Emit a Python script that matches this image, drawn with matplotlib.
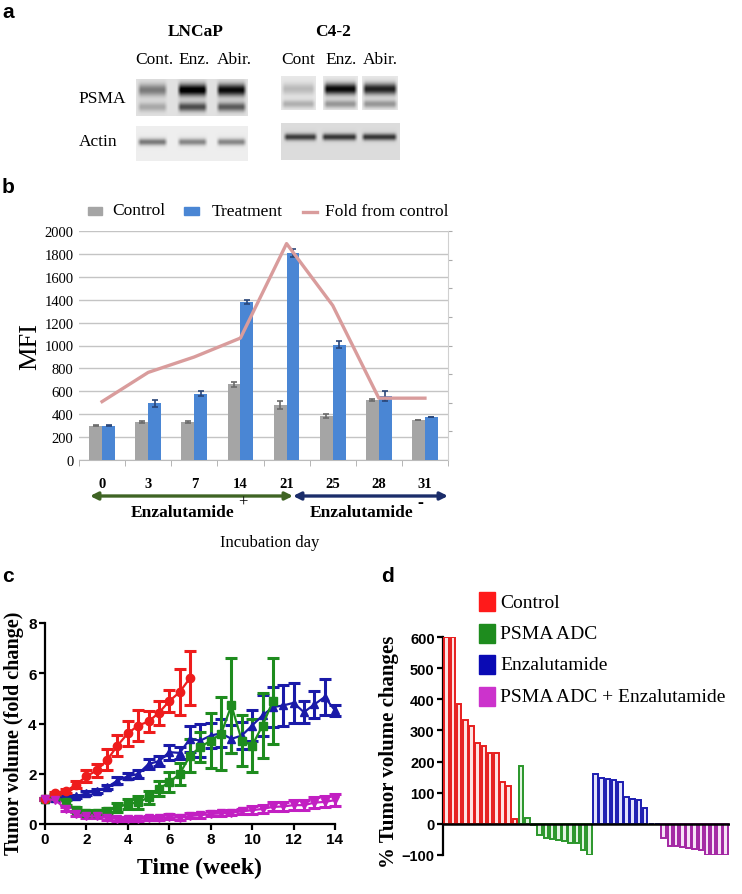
import numpy as np
import matplotlib
matplotlib.use("Agg")
import matplotlib.pyplot as plt
from matplotlib.patches import Rectangle
from matplotlib.lines import Line2D

plt.rcParams['font.family'] = ['Liberation Serif', 'DejaVu Serif']
SANS = ['Liberation Sans', 'DejaVu Sans']

# ---------------- data ----------------
# panel a: band strengths per lane (Cont, Enz, Abir)
lanes_a = ["Cont.", "Enz.", "Abir."]
lanes_a2 = ["Cont", "Enz.", "Abir."]
lncap_psma_upper = [0.40, 0.92, 0.85]
lncap_psma_lower = [0.22, 0.58, 0.52]
lncap_actin = [0.45, 0.40, 0.40]
c42_psma_upper = [0.18, 0.88, 0.78]
c42_psma_lower = [0.22, 0.32, 0.32]
c42_actin = [0.62, 0.65, 0.65]

# panel b
days = ["0", "3", "7", "14", "21", "25", "28", "31"]
control = [300, 330, 330, 660, 480, 385, 525, 350]
control_err = [6, 10, 10, 20, 35, 20, 6, 0]
treatment = [300, 495, 580, 1380, 1810, 1005, 560, 375]
treatment_err = [6, 30, 25, 15, 35, 30, 45, 0]
fold = [1.02, 1.53, 1.80, 2.13, 3.78, 2.70, 1.08, 1.08]

# panel c
weeks = [0, 0.5, 1, 1.5, 2, 2.5, 3, 3.5, 4, 4.5, 5, 5.5, 6, 6.5, 7, 7.5, 8,
         8.5, 9, 9.5, 10, 10.5, 11, 11.5, 12, 12.5, 13, 13.5, 14]
red_y = [1.0, 1.22, 1.3, 1.57, 1.9, 2.13, 2.55, 3.12, 3.61, 3.92, 4.08, 4.43,
         4.89, 5.25, 5.81]
red_err = [0.05, 0.06, 0.08, 0.15, 0.23, 0.25, 0.42, 0.43, 0.5, 0.6, 0.4, 0.48,
           0.43, 0.93, 1.06]
blue_y = [1.0, 1.05, 1.05, 1.1, 1.22, 1.33, 1.46, 1.73, 1.9, 1.99, 2.39, 2.5,
          2.86, 2.83, 3.39, 3.32, 3.52, 3.61, 3.39, 3.52, 3.92, 4.32, 4.65,
          4.72, 4.82, 4.45, 4.76, 5.05, 4.52]
blue_err = [0.05, 0.05, 0.06, 0.07, 0.08, 0.08, 0.08, 0.15, 0.12, 0.15, 0.2,
            0.2, 0.3, 0.25, 0.53, 0.66, 0.5, 0.56, 0.56, 0.53, 0.6, 0.8, 0.8,
            0.8, 0.8, 0.43, 0.53, 0.73, 0.23]
green_y = [1.0, 1.1, 0.86, 0.56, 0.44, 0.45, 0.53, 0.66, 0.8, 0.86, 1.06, 1.4,
           1.66, 1.99, 2.72, 3.06, 3.32, 3.59, 4.72, 3.32, 3.12, 3.92, 4.89]
green_err = [0.05, 0.08, 0.1, 0.1, 0.1, 0.1, 0.12, 0.18, 0.2, 0.25, 0.25, 0.3,
             0.4, 0.45, 0.67, 0.6, 1.1, 1.45, 1.9, 1.0, 1.05, 1.3, 1.7]
purple_y = [1.0, 0.95, 0.6, 0.4, 0.3, 0.3, 0.25, 0.2, 0.2, 0.2, 0.22, 0.22,
            0.28, 0.25, 0.32, 0.35, 0.4, 0.42, 0.45, 0.5, 0.55, 0.6, 0.68, 0.7,
            0.75, 0.75, 0.85, 0.88, 0.95]
purple_err = [0.05, 0.05, 0.08, 0.08, 0.08, 0.08, 0.08, 0.08, 0.08, 0.08, 0.08,
              0.08, 0.1, 0.1, 0.1, 0.1, 0.1, 0.1, 0.1, 0.1, 0.15, 0.15, 0.18,
              0.18, 0.2, 0.2, 0.22, 0.22, 0.25]

# panel d
groups_d = ["Control", "PSMA ADC", "Enzalutamide", "PSMA ADC + Enzalutamide"]
wf_control = [600, 600, 385, 335, 315, 260, 250, 228, 228, 135, 120, 15]
wf_adc = [185, 20, -3, -35, -45, -50, -52, -55, -60, -60, -85, -100]
wf_enz = [160, 148, 143, 140, 135, 85, 80, 78, 50, 0, 0]
wf_combo = [-45, -70, -72, -75, -78, -82, -85, -100, -100, -100, -100]

W, H = 742, 895
fig = plt.figure(figsize=(W / 100, H / 100), dpi=100)


def box(x0, y0, x1, y1):
    return [x0 / W, 1 - y1 / H, (x1 - x0) / W, (y1 - y0) / H]


# overlay axes in pixel coordinates (panel a, labels, arrows)
ov = fig.add_axes([0, 0, 1, 1], zorder=5)
ov.set_xlim(0, W)
ov.set_ylim(H, 0)
ov.axis('off')
ov.patch.set_alpha(0)


def blot(x0, x1, y0, y1, lanes, bands, bg):
    xs = np.arange(x0, x1) + 0.5
    ys = np.arange(y0, y1) + 0.5
    img = np.full((len(ys), len(xs)), bg)
    for yc, sig, strengths in bands:
        gy = np.exp(-0.5 * ((ys - yc) / sig) ** 2)
        for (xa, xb), s in zip(lanes, strengths):
            px = np.clip(np.minimum(xs - xa, xb - xs) / 4.0, 0, 1)
            img -= s * np.outer(gy, px)
    ov.imshow(np.clip(img, 0, 1), cmap='gray', vmin=0, vmax=1, aspect='auto',
              extent=(x0, x1, y1, y0), interpolation='bilinear', zorder=2)


# ---------------- panel a ----------------
ov.text(2, 12, "a", fontsize=15, fontweight='bold', family=SANS, va='center')
ov.text(196, 32, "LNCaP", fontsize=12.5, fontweight='bold', ha='center', va='center')
ov.text(333, 32, "C4-2", fontsize=12.5, fontweight='bold', ha='center', va='center')
for lab, x in zip(lanes_a, [154, 194, 234]):
    ov.text(x, 60, lab, fontsize=12.5, ha='center', va='center')
for lab, x in zip(lanes_a2, [298, 341, 380]):
    ov.text(x, 60, lab, fontsize=12.5, ha='center', va='center')
ov.text(102, 99, "PSMA", fontsize=12.5, ha='center', va='center')
ov.text(98, 142, "Actin", fontsize=12.5, ha='center', va='center')

lnc_lanes = [(137, 168), (177, 208), (216, 247)]
blot(136, 248, 80, 117, lnc_lanes,
     [(91, 4.2, lncap_psma_upper), (108, 3.2, lncap_psma_lower)], 0.88)
blot(136, 248, 127, 162, lnc_lanes, [(143, 2.4, lncap_actin)], 0.93)
c42_lanes = [(281, 316), (323, 358), (362, 398)]
for i, ln in enumerate(c42_lanes):
    blot(ln[0], ln[1], 77, 111, [ln],
         [(90, 4.0, [c42_psma_upper[i]]), (105, 2.8, [c42_psma_lower[i]])], 0.91)
blot(281, 400, 124, 161, [(283, 318), (321, 358), (361, 398)],
     [(138, 2.4, c42_actin)], 0.86)

# ---------------- panel b ----------------
ov.text(2, 187, "b", fontsize=15, fontweight='bold', family=SANS, va='center')
axb = fig.add_axes(box(79, 232, 448, 461))
xb = np.arange(len(days))
bw = 0.28
axb.bar(xb - bw / 2, control, bw, color='#a5a5a5', zorder=3)
axb.bar(xb + bw / 2, treatment, bw, color='#4a86d4', zorder=3)
axb.errorbar(xb - bw / 2, control, yerr=control_err, fmt='none', ecolor='#6b6b6b',
             capsize=2, elinewidth=1.2, capthick=1.2, zorder=4)
axb.errorbar(xb + bw / 2, treatment, yerr=treatment_err, fmt='none',
             ecolor='#2a4678', capsize=2, elinewidth=1.2, capthick=1.2, zorder=4)
axb.set_xlim(-0.5, len(days) - 0.5)
axb.set_ylim(0, 2000)
axb.set_yticks(range(0, 2001, 200))
axb.tick_params(axis='y', length=0, labelsize=10.5, pad=4)
axb.yaxis.grid(True, color='#c4c4c4', lw=1)
axb.set_axisbelow(True)
axb.set_xticks(xb)
axb.set_xticklabels(days, fontweight='bold', fontsize=10.5)
axb.tick_params(axis='x', length=0, pad=12)
axb.set_xticks(np.arange(-0.5, len(days)), minor=True)
axb.tick_params(axis='x', which='minor', length=4, color='#aaaaaa')
for s in ['left', 'top', 'right']:
    axb.spines[s].set_visible(False)
axb.spines['bottom'].set_color('#bbbbbb')
axb.set_ylabel("MFI", fontsize=19, labelpad=2)
axb2 = axb.twinx()
axb2.plot(xb, fold, color='#d99c9c', lw=2.4, zorder=5)
axb2.set_ylim(0, 4)
axb2.set_yticks(np.arange(0.5, 4.01, 0.5))
axb2.set_yticklabels([])
axb2.tick_params(axis='y', length=3, color='#aaaaaa', direction='out')
for s in ['left', 'top', 'bottom']:
    axb2.spines[s].set_visible(False)
axb2.spines['right'].set_color('#d0d0d0')

# legend b
ov.add_patch(Rectangle((88, 208), 14, 8, color='#a5a5a5'))
ov.text(112, 211, "Control", fontsize=12.5, va='center')
ov.add_patch(Rectangle((184, 208), 15, 8, color='#4a86d4'))
ov.text(212, 212, "Treatment", fontsize=12.5, va='center')
ov.add_line(Line2D([303, 317], [213, 213], color='#d99c9c', lw=2.4))
ov.text(325, 212, "Fold from control", fontsize=12.5, va='center')

# arrows
ov.annotate('', xy=(90, 497), xytext=(293, 497),
            arrowprops=dict(arrowstyle='<|-|>', color='#3f6424', lw=2.4,
                            mutation_scale=11, shrinkA=0, shrinkB=0))
ov.annotate('', xy=(293, 497), xytext=(448, 497),
            arrowprops=dict(arrowstyle='<|-|>', color='#1b2d6a', lw=2.4,
                            mutation_scale=11, shrinkA=0, shrinkB=0))
ov.text(183, 513, "Enzalutamide", fontsize=12.5, fontweight='bold', ha='center', va='center')
ov.text(243, 503, "+", fontsize=12, ha='center', va='center')
ov.text(362, 513, "Enzalutamide", fontsize=12.5, fontweight='bold', ha='center', va='center')
ov.text(420, 504, "-", fontsize=13, fontweight='bold', ha='center', va='center')
ov.text(270, 543, "Incubation day", fontsize=12, ha='center', va='center')

# ---------------- panel c ----------------
ov.text(2, 577, "c", fontsize=15, fontweight='bold', family=SANS, va='center')
axc = fig.add_axes(box(45, 624, 335, 825))
series_c = [
    (blue_y, blue_err, '#1a1aa8', '^'),
    (green_y, green_err, '#1e8c1e', 's'),
    (red_y, red_err, '#ee1c1c', 'o'),
    (purple_y, purple_err, '#c21fc2', 'v'),
]
for ys, es, col, mk in series_c:
    axc.errorbar(weeks[:len(ys)], ys, yerr=es, color=col, marker=mk, ms=6,
                 lw=1.6, elinewidth=2.2, capsize=4, capthick=2.2, clip_on=False,
                 zorder=3)
axc.set_xlim(0, 14)
axc.set_ylim(0, 8)
axc.set_xticks(range(0, 15, 2))
axc.set_yticks(range(0, 9, 2))
for s in ['top', 'right']:
    axc.spines[s].set_visible(False)
for s in ['left', 'bottom']:
    axc.spines[s].set_linewidth(1.6)
axc.tick_params(length=4, width=1.6, labelsize=11, pad=2)
for lab in axc.get_xticklabels() + axc.get_yticklabels():
    lab.set_family(SANS)
    lab.set_fontweight('bold')
ov.text(199, 868, "Time (week)", fontsize=17, fontweight='bold', ha='center', va='center')
ov.text(14, 733, "Tumor volume (fold change)", fontsize=14.5, fontweight='bold',
        rotation=90, ha='center', va='center')

# ---------------- panel d ----------------
ov.text(381, 577, "d", fontsize=15, fontweight='bold', family=SANS, va='center')
axd = fig.add_axes(box(443, 638, 730, 856))
colors_d = ['#e61e1e', '#2a962a', '#1c1cb0', '#a326a3']
fills_d = ['#fde3e3', '#e3f4e3', '#e3e3fb', '#f6e3f6']
pos = 0
for vals, col, fc in zip([wf_control, wf_adc, wf_enz, wf_combo], colors_d, fills_d):
    idx = np.arange(pos, pos + len(vals))
    axd.bar(idx, vals, 0.72, facecolor=fc, edgecolor=col, lw=1.4, zorder=3)
    pos += len(vals)
axd.set_xlim(-0.6, pos - 0.3)
axd.set_ylim(-100, 600)
axd.axhline(0, color='black', lw=1.8, zorder=4)
axd.set_xticks([])
for s in ['top', 'right', 'bottom']:
    axd.spines[s].set_visible(False)
axd.spines['left'].set_linewidth(1.6)
axd.set_yticks(range(-100, 601, 100))
axd.tick_params(axis='y', length=4, width=1.6, labelsize=10.5, pad=2)
for lab in axd.get_yticklabels():
    lab.set_family(SANS)
    lab.set_fontweight('bold')
ov.text(389, 752, "% Tumor volume changes", fontsize=15, fontweight='bold',
        rotation=90, ha='center', va='center')

legend_cols = ['#ff1a1a', '#1e8c1e', '#0a0ab4', '#cc33cc']
for i, (lab, col) in enumerate(zip(groups_d, legend_cols)):
    yc = 603 + i * 31.5
    ov.add_patch(Rectangle((479, yc - 10), 16, 19, color=col))
    ov.text(500, yc, lab, fontsize=14, va='center')

fig.savefig("out.png", dpi=100)
